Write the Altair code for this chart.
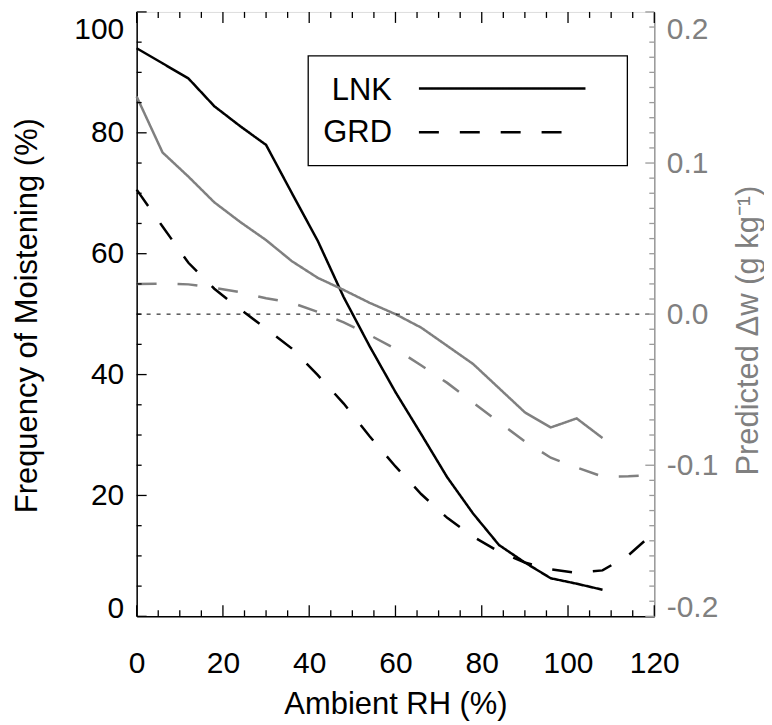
import altair as alt
import pandas as pd

# ---------------- data ----------------
rh_lnk = [0, 6, 12, 18, 24, 30, 36, 42, 48, 54, 60, 66, 72, 78, 84, 90, 96, 102, 108]
freq_lnk = [94.0, 91.5, 89.0, 84.4, 81.1, 78.0, 70.0, 62.1, 52.8, 44.7, 37.1, 30.1,
            23.0, 17.0, 11.8, 8.9, 6.3, 5.4, 4.4]

rh_grd = [0, 6, 12, 18, 24, 30, 36, 42, 48, 54, 60, 66, 72, 78, 84, 90, 96, 102, 108, 114, 120]
freq_grd = [70.6, 64.5, 58.5, 54.2, 50.8, 47.6, 44.3, 39.9, 35.2, 29.8, 24.8, 20.2,
            16.3, 13.2, 10.7, 8.9, 7.8, 7.2, 7.6, 10.1, 13.9]

dw_lnk = [0.144, 0.107, 0.091, 0.074, 0.061, 0.049, 0.035, 0.024, 0.016, 0.0075, 0.000,
          -0.009, -0.021, -0.033, -0.049, -0.065, -0.075, -0.069, -0.082]
dw_grd = [0.020, 0.0202, 0.0197, 0.0174, 0.0145, 0.0105, 0.0075, 0.0015, -0.0055, -0.0138,
          -0.023, -0.034, -0.0455, -0.0585, -0.0715, -0.0842, -0.095, -0.1015, -0.1075,
          -0.1073, -0.1065]

series_names = ["LNK", "GRD"]
ref_level = [50]

x_major = [0, 20, 40, 60, 80, 100, 120]
x_minor = [5, 10, 15, 25, 30, 35, 45, 50, 55, 65, 70, 75, 85, 90, 95, 105, 110, 115]
left_major = [0, 20, 40, 60, 80, 100]
left_minor = [5, 10, 15, 25, 30, 35, 45, 50, 55, 65, 70, 75, 85, 90, 95]
right_major = [-0.2, -0.1, 0.0, 0.1, 0.2]
right_minor = [-0.19, -0.18, -0.17, -0.16, -0.15, -0.14, -0.13, -0.12, -0.11,
               -0.09, -0.08, -0.07, -0.06, -0.05, -0.04, -0.03, -0.02, -0.01,
               0.01, 0.02, 0.03, 0.04, 0.05, 0.06, 0.07, 0.08, 0.09,
               0.11, 0.12, 0.13, 0.14, 0.15, 0.16, 0.17, 0.18, 0.19]

# ---------------- styling ----------------
W, H = 519, 606
FONT = "Liberation Sans"
GRAY = "#808080"
GRAY_AX = "#9a9a9a"

xs = alt.Scale(domain=[0, 120], nice=False, zero=False)
ls = alt.Scale(domain=[0, 100], nice=False, zero=False)
rs = alt.Scale(domain=[-0.2, 0.2], nice=False, zero=False)
dash_scale = alt.Scale(domain=series_names, range=[[1, 0], [20, 21]])

black_df = pd.concat([
    pd.DataFrame({"rh": rh_lnk, "val": freq_lnk, "series": "LNK"}),
    pd.DataFrame({"rh": rh_grd, "val": freq_grd, "series": "GRD"}),
])
gray_df = pd.concat([
    pd.DataFrame({"rh": rh_lnk, "val": dw_lnk, "series": "LNK"}),
    pd.DataFrame({"rh": rh_grd, "val": dw_grd, "series": "GRD"}),
])

x_axis = alt.Axis(
    title="Ambient RH (%)", orient="bottom", values=x_major, ticks=False, grid=False,
    domainColor="black", domainWidth=1.5,
    labelFont=FONT, labelFontSize=30, labelColor="black", labelPadding=32,
    labelFlush=False, labelOverlap=False,
    titleFont=FONT, titleFontSize=31, titleFontWeight="normal", titleColor="black",
    titleX=259.5, titleY=97, titleAlign="center", titleBaseline="alphabetic",
)
left_axis = alt.Axis(
    title="Frequency of Moistening (%)", orient="left", values=left_major,
    ticks=False, grid=False, domainColor="black", domainWidth=1.5,
    labelFont=FONT, labelFontSize=30, labelColor="black", labelPadding=13,
    labelFlush=False, labelOverlap=False,
    labelOffset={"condition": [{"test": "datum.value === 100", "value": 18},
                               {"test": "datum.value === 0", "value": -8}],
                 "value": 0},
    titleFont=FONT, titleFontSize=31, titleFontWeight="normal", titleColor="black",
    titleAngle=270, titleX=-100, titleY=304, titleAlign="center",
    titleBaseline="alphabetic",
)
right_axis = alt.Axis(
    title="Predicted \u0394w (g kg\u207b\u00b9)", orient="right", values=right_major,
    format=".1f", labelExpr="replace(datum.label, '\u2212', '-')",
    ticks=False, grid=False, domainColor=GRAY_AX, domainWidth=1.5,
    labelFont=FONT, labelFontSize=30, labelColor=GRAY, labelPadding=12,
    labelFlush=False, labelOverlap=False,
    labelOffset={"condition": [{"test": "datum.value === 0.2", "value": 18},
                               {"test": "datum.value === -0.2", "value": -9}],
                 "value": 0},
    titleFont=FONT, titleFontSize=31, titleFontWeight="normal", titleColor=GRAY,
    titleAngle=270, titleX=103, titleY=319, titleAlign="center",
    titleBaseline="alphabetic",
)

black_lines = alt.Chart(black_df).mark_line(color="black", strokeWidth=2.5).encode(
    x=alt.X("rh:Q", scale=xs, axis=x_axis),
    y=alt.Y("val:Q", scale=ls, axis=left_axis),
    strokeDash=alt.StrokeDash("series:N", scale=dash_scale, legend=None),
)
gray_lines = alt.Chart(gray_df).mark_line(color=GRAY, strokeWidth=2.5).encode(
    x=alt.X("rh:Q", scale=xs, axis=x_axis),
    y=alt.Y("val:Q", scale=rs, axis=right_axis),
    strokeDash=alt.StrokeDash("series:N", scale=dash_scale, legend=None),
)

zero_line = alt.Chart(pd.DataFrame({"v": ref_level})).mark_rule(
    color="black", strokeWidth=1, strokeDash=[4, 6]
).encode(y=alt.Y("v:Q", scale=ls, axis=None), x=alt.value(0), x2=alt.value(W))


def xticks(vals, y0, y1):
    return alt.Chart(pd.DataFrame({"v": vals})).mark_rule(color="black", strokeWidth=1.3).encode(
        x=alt.X("v:Q", scale=xs, axis=x_axis), y=alt.value(y0), y2=alt.value(y1))


def yticks(vals, scale, x0, x1, color):
    return alt.Chart(pd.DataFrame({"v": vals})).mark_rule(color=color, strokeWidth=1.3).encode(
        y=alt.Y("v:Q", scale=scale, axis=None), x=alt.value(x0), x2=alt.value(x1))


tick_layers = [
    xticks(x_major, H, H - 11), xticks(x_minor, H, H - 6),
    xticks(x_major, 0, 11), xticks(x_minor, 0, 6),
    yticks(left_major, ls, 0, 10, "black"), yticks(left_minor, ls, 0, 5, "black"),
    yticks(right_major, rs, W, W - 9, GRAY_AX), yticks(right_minor, rs, W, W - 5, GRAY_AX),
]

# legend drawn inside the plot
leg_df = pd.DataFrame({"series": series_names})
legend_box = alt.Chart(pd.DataFrame({"k": [0]})).mark_rect(
    fill="white", stroke="black", strokeWidth=1.3
).encode(x=alt.value(172), x2=alt.value(492), y=alt.value(44), y2=alt.value(154))


def leg_item(name, ty, ly, dash, x2):
    d = leg_df[leg_df["series"] == name]
    txt = alt.Chart(d).mark_text(
        font=FONT, fontSize=31, align="right", baseline="alphabetic", color="black"
    ).encode(text="series:N", x=alt.value(256), y=alt.value(ty))
    ln = alt.Chart(d).mark_rule(color="black", strokeWidth=2.5, strokeDash=dash).encode(
        x=alt.value(283), x2=alt.value(x2), y=alt.value(ly))
    return [txt, ln]


legend_layers = ([legend_box]
                 + leg_item("LNK", 88.3, 76.7, [1, 0], 450)
                 + leg_item("GRD", 130.7, 120.7, [20, 21], 428))

chart = alt.layer(
    black_lines, gray_lines, zero_line, *tick_layers, *legend_layers
).resolve_scale(y="independent").properties(
    width=W, height=H,
    autosize=alt.AutoSizeParams(type="none"),
    padding={"left": 129, "top": 3, "right": 110, "bottom": 106},
).configure_view(stroke="black", strokeWidth=1.5).configure(background="white")

chart.save("out.html", embed_options={"renderer": "svg", "actions": False})
